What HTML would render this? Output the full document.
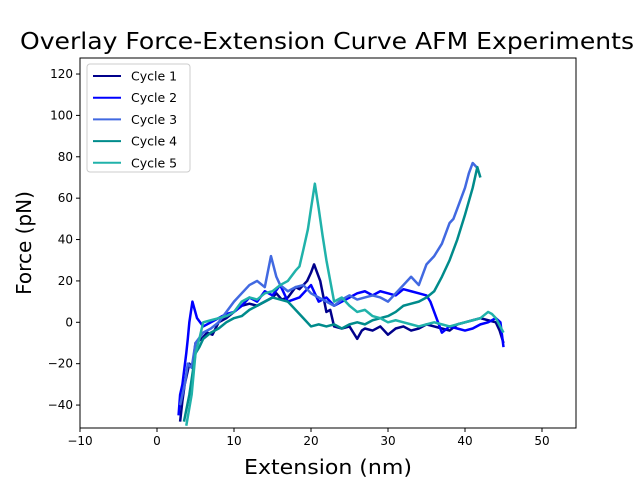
<!DOCTYPE html>
<html><head><meta charset="utf-8"><style>
body{margin:0;background:#fff;font-family:"DejaVu Sans",sans-serif}
svg text{font-family:"DejaVu Sans",sans-serif}
</style></head><body>
<svg id="c" width="640" height="480"></svg>
<script>
const cycleNames=["Cycle 1","Cycle 2","Cycle 3","Cycle 4","Cycle 5"];
const cycle1=[[3,-48],[3.3,-38],[3.6,-30],[4.2,-20],[4.6,-22],[5,-10],[5.8,-8],[6.5,-5],[7.2,-6],[8,0],[9,2],[10,5],[11,8],[12,9],[13,8],[14,10],[15,12],[15.5,14],[16.2,11],[17,12],[18,17],[18.5,16],[19.5,20],[20,24],[20.4,28],[20.8,24],[21.2,20],[22,5],[22.5,6],[23,-2],[24,-3],[25,-2],[25.5,-5],[26,-8],[26.6,-4],[27,-3],[28,-4],[29,-2],[30,-6],[31,-3],[32,-2],[33,-4],[34,-3],[35,-1],[36,-2],[37,-3],[38,-4],[39,-1],[40,0],[41,1],[42,2],[43,1],[44,0],[44.5,-4],[45,-10]];
const cycle2=[[2.8,-45],[3,-35],[3.3,-30],[3.8,-15],[4,-8],[4.2,0],[4.6,10],[5.2,2],[6,-2],[7,0],[8,2],[9,4],[10,5],[11,8],[12,12],[13,10],[14,15],[15,13],[16,18],[16.5,14],[17,10],[18.5,12],[19.5,16],[20,18],[21,10],[22,12],[23,8],[24,10],[25,12],[26,14],[27,15],[28,13],[29,15],[30,14],[31,13],[32,16],[33,15],[34,14],[35,13],[35.5,10],[36,5],[37,-5],[38,-2],[39,-3],[40,-4],[41,-3],[42,-1],[43,0],[44,2],[44.6,0],[45,-12]];
const cycle3=[[3,-40],[3.6,-30],[4,-20],[4.5,-22],[5,-10],[6,-5],[7,-3],[8,0],[9,5],[10,10],[11,14],[12,18],[13,20],[14,17],[14.8,32],[15.5,22],[16,18],[17,15],[18,17],[19,18],[20,14],[21,12],[22,10],[23,8],[24,11],[25,13],[26,11],[27,12],[28,13],[29,12],[30,10],[31,14],[32,18],[33,22],[34,18],[35,28],[36,32],[37,38],[38,48],[38.5,50],[39,55],[40,65],[40.5,72],[41,77],[41.5,75]];
const cycle4=[[3.5,-48],[4.2,-35],[5,-15],[5.5,-12],[6,-8],[7,-5],[8,-3],[9,0],[10,2],[11,3],[12,6],[13,8],[14,10],[15,12],[16,11],[17,10],[18,6],[19,2],[20,-2],[21,-1],[22,-2],[23,-1],[24,-3],[25,-1],[26,0],[27,-1],[28,1],[29,2],[30,3],[31,5],[32,8],[33,9],[34,10],[35,12],[36,15],[37,22],[38,30],[39,40],[40,52],[41,65],[41.6,75],[42,70]];
const cycle5=[[3.8,-50],[4.5,-35],[5,-15],[5.5,-8],[6,0],[7,1],[8,2],[9,3],[10,5],[11,10],[12,12],[13,11],[14,14],[15,15],[16,18],[17,20],[18,25],[18.5,27],[19,35],[19.6,45],[20,55],[20.5,67],[21,55],[21.5,42],[22,30],[23,10],[24,12],[25,8],[26,5],[27,6],[28,3],[29,2],[30,0],[31,1],[32,0],[33,-1],[34,-2],[35,-1],[36,0],[37,-1],[38,-2],[39,-1],[40,0],[41,1],[42,2],[43,5],[43.5,4],[44,2],[45,-5]];
const series=[cycle1,cycle2,cycle3,cycle4,cycle5];
const colors=["#00008b","#0000ff","#4169e1","#008b8b","#20b2aa"];
const xTicks=[-10,0,10,20,30,40,50];
const yTicks=[-40,-20,0,20,40,60,80,100,120];
const L=80,R=576,T=58,B=428;
const X=v=>157+v*7.7, Y=v=>322.3-v*2.069;
const svg=document.getElementById('c');const NS="http://www.w3.org/2000/svg";
function mk(t,a,p){const e=document.createElementNS(NS,t);for(const k in a)e.setAttribute(k,a[k]);(p||svg).appendChild(e);return e;}
let t=mk('text',{x:20,y:49,'font-size':'23',textLength:614,lengthAdjust:'spacingAndGlyphs'});t.textContent="Overlay Force-Extension Curve AFM Experiments";

const g=mk('g',{'clip-path':'url(#cp)'});
const cp=mk('clipPath',{id:'cp'});mk('rect',{x:L,y:T,width:R-L,height:B-T},cp);
series.forEach((s,i)=>{const p=mk('polyline',{points:s.map(d=>X(d[0])+','+Y(d[1])).join(' '),fill:'none',stroke:colors[i],'stroke-width':2.5,'stroke-linejoin':'round'},g);
});
const ax=mk('rect',{x:L,y:T,width:R-L,height:B-T,fill:'none',stroke:'#000','stroke-width':1});

xTicks.forEach(v=>{mk('line',{x1:X(v),x2:X(v),y1:B,y2:B+4,stroke:'#000'});const e=mk('text',{x:X(v),y:B+17,'text-anchor':'middle','font-size':'12'});e.textContent=v<0?'\u2212'+(-v):v;
});
yTicks.forEach(v=>{mk('line',{x1:L-4,x2:L,y1:Y(v),y2:Y(v),stroke:'#000'});const e=mk('text',{x:L-7,y:Y(v)+4,'text-anchor':'end','font-size':'12'});e.textContent=v<0?'\u2212'+(-v):v;
});
t=mk('text',{x:244,y:474,'font-size':'20',textLength:168,lengthAdjust:'spacingAndGlyphs'});t.textContent="Extension (nm)";

t=mk('text',{x:0,y:0,'text-anchor':'middle','font-size':'20',transform:'translate(31,243) rotate(-90)'});t.textContent="Force (pN)";

const lg=mk('g',{});
mk('rect',{x:87,y:64,width:103,height:108,rx:3,fill:'#fff',stroke:'#ccc'},lg);
cycleNames.forEach((n,i)=>{const y=76+i*21.7;const e=mk('g',{},lg);

mk('line',{x1:93,x2:121,y1:y,y2:y,stroke:colors[i],'stroke-width':2},e);const tx=mk('text',{x:131,y:y+4.5,'font-size':'12.5'},e);tx.textContent=n;});
</script></body></html>
